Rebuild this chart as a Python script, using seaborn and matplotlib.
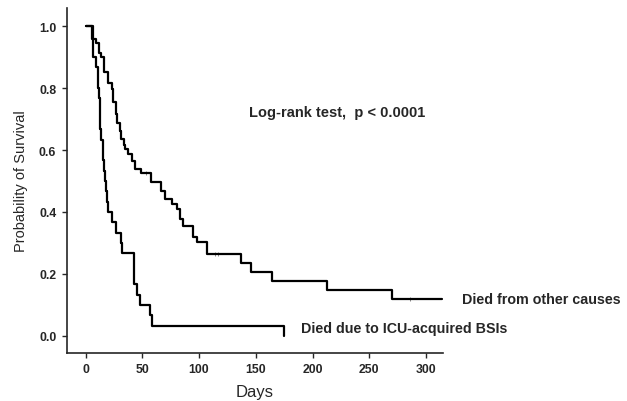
import matplotlib
matplotlib.use("Agg")
import matplotlib.pyplot as plt
import seaborn as sns
import pandas as pd

# Kaplan-Meier steps
icu_days = [0, 7, 9, 11, 12, 12.5, 13, 14, 15, 15.5, 16.5, 17.5, 18, 19, 20,
            23.5, 27, 31, 32, 43, 45.5, 48, 56.5, 58.5, 175]
icu_surv = [1.0, 0.90, 0.867, 0.80, 0.767, 0.733, 0.667, 0.633, 0.60, 0.567,
            0.533, 0.50, 0.467, 0.433, 0.40, 0.367, 0.333, 0.30, 0.267, 0.167,
            0.133, 0.10, 0.067, 0.033, 0.0]

other_days = [0, 6, 9, 11.5, 14, 16.5, 20, 23, 24.5, 26.5, 28, 30, 31.5, 33.5,
              35, 37.5, 40.5, 44, 49, 58, 66.5, 70, 76.5, 80.5, 83.5, 86, 94.5,
              98, 107, 137, 145.5, 164, 213, 270, 314]
other_surv = [1.0, 0.958, 0.945, 0.913, 0.899, 0.851, 0.816, 0.797, 0.755,
              0.716, 0.687, 0.661, 0.635, 0.616, 0.603, 0.587, 0.565, 0.539,
              0.526, 0.497, 0.468, 0.442, 0.426, 0.410, 0.377, 0.355, 0.319,
              0.303, 0.264, 0.235, 0.206, 0.177, 0.148, 0.119, 0.119]

# censored observations (small ticks on the curve)
cens_days = [53, 114, 117, 286]
cens_surv = [0.526, 0.264, 0.264, 0.119]

y_ticks = [0.0, 0.2, 0.4, 0.6, 0.8, 1.0]
x_ticks = [0, 50, 100, 150, 200, 250, 300]


def build_frame():
    icu = pd.DataFrame({"Days": icu_days, "Survival": icu_surv, "group": "icu"})
    other = pd.DataFrame({"Days": other_days, "Survival": other_surv, "group": "other"})
    return pd.concat([icu, other], ignore_index=True)


def main():
    sns.set_style("ticks")
    plt.rcParams["font.family"] = ["Liberation Sans", "DejaVu Sans"]

    data = build_frame()
    fig = plt.figure(figsize=(6.27, 4.02), dpi=100)
    ax = fig.add_axes([0.1064, 0.1194, 0.5997, 0.858])

    sns.lineplot(data=data, x="Days", y="Survival", hue="group",
                 palette={"icu": "black", "other": "black"}, estimator=None,
                 drawstyle="steps-post", linewidth=1.6, legend=False, ax=ax)
    sns.scatterplot(x=cens_days, y=cens_surv, marker="|", color="#777777",
                    s=8, linewidth=0.6, ax=ax)

    ax.set_xlim(-16.6, 314.7)
    ax.set_ylim(-0.055, 1.058)
    ax.set_xticks(x_ticks)
    ax.set_yticks(y_ticks)
    ax.set_yticklabels([f"{v:.1f}" for v in y_ticks])
    ax.tick_params(axis="both", length=3.5, width=1.0, labelsize=8.8, pad=4)
    for lab in ax.get_xticklabels() + ax.get_yticklabels():
        lab.set_fontweight("bold")
    for side in ["left", "bottom"]:
        ax.spines[side].set_linewidth(1.2)
    sns.despine(ax=ax)

    ax.set_xlabel("Days", fontsize=12, labelpad=6)
    ax.set_ylabel("Probability of Survival", fontsize=10.5, labelpad=8)

    ax.text(144, 0.724, "Log-rank test,  p < 0.0001", fontsize=10.5,
            fontweight="bold", va="center", ha="left")
    ax.text(331.5, 0.119, "Died from other causes", fontsize=10.3,
            fontweight="bold", va="center", ha="left", clip_on=False)
    ax.text(189.5, 0.025, "Died due to ICU-acquired BSIs", fontsize=10.3,
            fontweight="bold", va="center", ha="left", clip_on=False)

    fig.savefig("out.png", dpi=100)
    plt.close(fig)


if __name__ == "__main__":
    main()
